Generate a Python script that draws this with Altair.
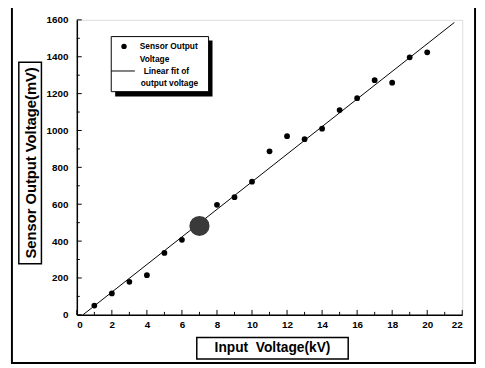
import altair as alt
import pandas as pd

# ---- data ----
input_kv = [1, 2, 3, 4, 5, 6, 7, 8, 9, 10, 11, 12, 13, 14, 15, 16, 17, 18, 19, 20]
sensor_mv = [50, 116, 179, 215, 336, 407, 482, 597, 638, 722, 887, 969, 953, 1010,
             1111, 1175, 1273, 1259, 1397, 1424]
fit_kv = [0.35, 21.55]
fit_mv = [0, 1586]
highlight_kv = 7

x_major = [0, 2, 4, 6, 8, 10, 12, 14, 16, 18, 20, 22]
x_minor = [1, 3, 5, 7, 9, 11, 13, 15, 17, 19, 21]
y_major = [0, 200, 400, 600, 800, 1000, 1200, 1400, 1600]
y_minor = [100, 300, 500, 700, 900, 1100, 1300, 1500]

FONT = "Liberation Sans"
W, H = 392, 300

pts = pd.DataFrame({"x": input_kv, "y": sensor_mv})
fit = pd.DataFrame({"x": fit_kv, "y": fit_mv})

xscale = alt.Scale(domain=[0, 22], nice=False, zero=False)
yscale = alt.Scale(domain=[0, 1600], nice=False, zero=False)

xaxis = alt.Axis(values=x_major, title=None, grid=False, ticks=False, zindex=2,
                 domainColor="black", domainWidth=1.5, format="d",
                 labelFont=FONT, labelFontWeight="bold", labelFontSize=10,
                 labelColor="black", labelPadding=5)
yaxis = alt.Axis(values=y_major, title=None, grid=False, ticks=False, zindex=2,
                 domainColor="black", domainWidth=1.5, format="d",
                 labelFont=FONT, labelFontWeight="bold", labelFontSize=10,
                 labelColor="black", labelPadding=9)

X = lambda f="x": alt.X(f"{f}:Q", scale=xscale, axis=xaxis)
Y = lambda f="y": alt.Y(f"{f}:Q", scale=yscale, axis=yaxis)

one = pd.DataFrame({"a": [0]})

# outer frame
frame = alt.Chart(one).mark_rect(
    fill="transparent", stroke="black", strokeWidth=2
).encode(x=alt.value(-66), x2=alt.value(405), y=alt.value(-13), y2=alt.value(349))

line = alt.Chart(fit).mark_line(color="black", strokeWidth=1).encode(x=X(), y=Y())

points = alt.Chart(pts).mark_circle(opacity=1).encode(
    x=X(), y=Y(),
    size=alt.condition(f"datum.x == {highlight_kv}", alt.value(420), alt.value(34)),
    color=alt.condition(f"datum.x == {highlight_kv}", alt.value("#3a3a3a"), alt.value("black")),
)

# inward ticks
xmaj = alt.Chart(pd.DataFrame({"x": x_major})).mark_rule(color="black").encode(
    x=X(), y=alt.value(H), y2=alt.value(H - 5))
xmin = alt.Chart(pd.DataFrame({"x": x_minor})).mark_rule(color="black").encode(
    x=X(), y=alt.value(H), y2=alt.value(H - 3))
ymaj = alt.Chart(pd.DataFrame({"y": y_major})).mark_rule(color="black").encode(
    y=Y(), x=alt.value(0), x2=alt.value(5))
ymin = alt.Chart(pd.DataFrame({"y": y_minor})).mark_rule(color="black").encode(
    y=Y(), x=alt.value(0), x2=alt.value(3))

# axis title boxes
ybox = alt.Chart(one).mark_rect(fill="white", stroke="black", strokeWidth=1.5).encode(
    x=alt.value(-59), x2=alt.value(-36), y=alt.value(43), y2=alt.value(248))
ytitle = alt.Chart(one).mark_text(font=FONT, fontWeight="bold", fontSize=15, angle=270,
                                  color="black").encode(
    x=alt.value(-47), y=alt.value(145.5), text=alt.value("Sensor Output Voltage(mV)"))
xbox = alt.Chart(one).mark_rect(fill="white", stroke="black", strokeWidth=1.5).encode(
    x=alt.value(122), x2=alt.value(276), y=alt.value(323), y2=alt.value(345))
xtitle = alt.Chart(one).mark_text(font=FONT, fontWeight="bold", fontSize=14,
                                  color="black").encode(
    x=alt.value(199), y=alt.value(334), text=alt.value("Input\u00a0 Voltage(kV)"))

# legend
lshadow = alt.Chart(one).mark_rect(fill="black").encode(
    x=alt.value(39), x2=alt.value(138), y=alt.value(21), y2=alt.value(78))
lbox = alt.Chart(one).mark_rect(fill="white", stroke="black", strokeWidth=1).encode(
    x=alt.value(35), x2=alt.value(134), y=alt.value(17), y2=alt.value(73))
ldot = alt.Chart(one).mark_circle(color="black", size=30, opacity=1).encode(
    x=alt.value(48), y=alt.value(27))
lline = alt.Chart(one).mark_rule(color="black", strokeWidth=1).encode(
    x=alt.value(35), x2=alt.value(59), y=alt.value(52))


def ltext(txt, x, y):
    return alt.Chart(one).mark_text(font=FONT, fontWeight="bold", fontSize=8.5,
                                    align="left", baseline="middle", color="black").encode(
        x=alt.value(x), y=alt.value(y), text=alt.value(txt))


legend = [lshadow, lbox, ldot, lline,
          ltext("Sensor Output", 64, 27), ltext("Voltage", 64, 40),
          ltext("Linear fit of", 68, 52), ltext("output voltage", 65, 64)]

chart = alt.layer(
    frame, line, points, xmaj, xmin, ymaj, ymin,
    ybox, ytitle, xbox, xtitle, *legend
).properties(
    width=W, height=H,
    autosize=alt.AutoSizeParams(type="none"),
    padding={"left": 70, "top": 9, "right": 15, "bottom": 51},
).configure_view(stroke=None).configure(background="white")

chart.save("out.html", embed_options={"renderer": "svg", "actions": False})
